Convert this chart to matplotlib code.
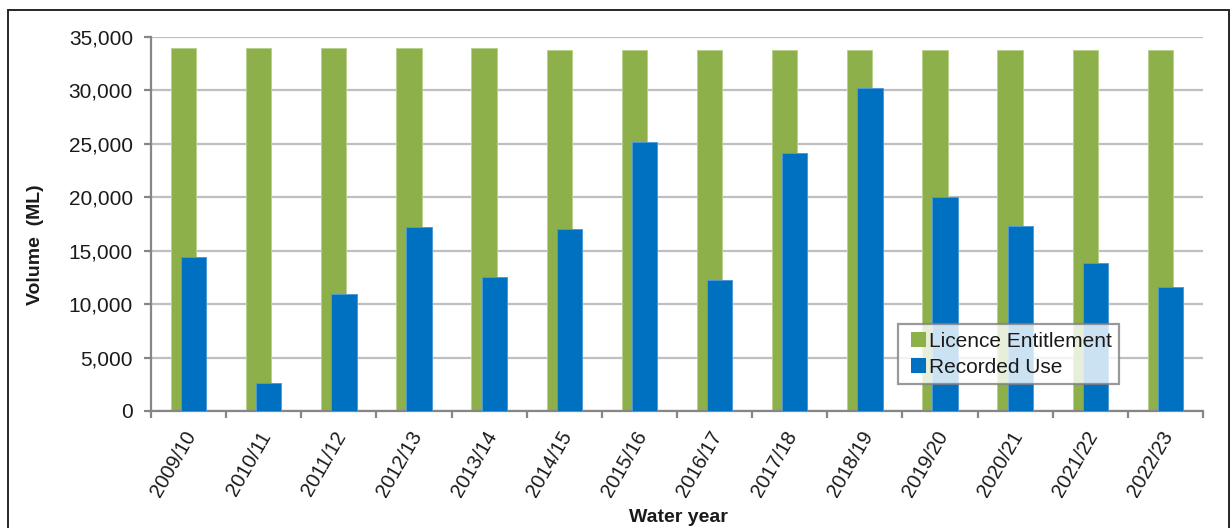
import matplotlib
matplotlib.use('Agg')
import matplotlib.pyplot as plt
import matplotlib.transforms as mtransforms
from matplotlib.patches import Rectangle
from matplotlib.legend_handler import HandlerPatch
from matplotlib.ticker import FuncFormatter
import numpy as np

matplotlib.rcParams.update({
    'font.family': ['Liberation Sans', 'DejaVu Sans'],
    'text.color': '#1a1a1a',
    'axes.labelcolor': '#1a1a1a',
    'xtick.color': '#868686',
    'ytick.color': '#868686',
    'xtick.labelcolor': '#1a1a1a',
    'ytick.labelcolor': '#1a1a1a',
})

years = ['2009/10', '2010/11', '2011/12', '2012/13', '2013/14', '2014/15', '2015/16',
         '2016/17', '2017/18', '2018/19', '2019/20', '2020/21', '2021/22', '2022/23']
licence_entitlement = [33950, 33950, 33950, 33950, 33950, 33820, 33820,
                       33820, 33820, 33820, 33820, 33820, 33820, 33820]
recorded_use = [14380, 2650, 10920, 17200, 12570, 17000, 25170,
                12230, 24120, 30200, 20030, 17340, 13880, 11630]

green = '#8DB04A'
blue = '#0070C0'


def square_handle(legend, orig_handle, xdescent, ydescent, width, height, fontsize):
    # small square at the right end of the handle box, like Excel
    sz = 11
    return Rectangle((width - xdescent - sz, -ydescent + (height - sz) / 2), sz, sz)


fig = plt.figure(figsize=(12.32, 5.28), dpi=100)
ax = fig.add_axes([151 / 1232, 117 / 528, 1052 / 1232, 374 / 528])

x = np.arange(len(years))
w = 0.337
off = 0.067
ax.bar(x - off, licence_entitlement, w, color=green, edgecolor='#b9d08f',
       linewidth=0.7, zorder=2)
ax.bar(x + off, recorded_use, w, color=blue, edgecolor='#4f9ad6',
       linewidth=0.7, zorder=3)

ax.set_xlim(-0.5, len(years) - 0.5)
ax.set_ylim(0, 35000)
ax.set_yticks(np.arange(0, 35001, 5000))
ax.yaxis.set_major_formatter(FuncFormatter(lambda v, p: f'{int(v):,}'))
ax.grid(axis='y', color='#BFBFBF', linewidth=1.6, zorder=0)
ax.set_axisbelow(True)

for s in ['top', 'right']:
    ax.spines[s].set_visible(False)
for s in ['left', 'bottom']:
    ax.spines[s].set_color('#868686')
    ax.spines[s].set_linewidth(1.6)

ax.tick_params(axis='y', length=5, width=1.6, pad=8, labelsize=15)

# category labels at centres, tick marks at boundaries
ax.set_xticks(x)
ax.set_xticklabels(years, rotation=60, ha='right', va='top',
                   rotation_mode='anchor', fontsize=14.5)
ax.tick_params(axis='x', which='major', length=0, pad=12)
ax.set_xticks(np.arange(-0.5, len(years), 1.0), minor=True)
ax.tick_params(axis='x', which='minor', length=5, width=1.6)
shift = mtransforms.ScaledTranslation(-5 / 100, 0, fig.dpi_scale_trans)
for lab in ax.get_xticklabels():
    lab.set_transform(lab.get_transform() + shift)

ax.set_ylabel('Volume  (ML)', fontsize=14, fontweight='bold')
ax.yaxis.set_label_coords(-0.102, 0.444)
fig.text(678 / 1232, 1 - 517 / 528, 'Water year', ha='center', va='center',
         fontsize=14, fontweight='bold')

handles = [Rectangle((0, 0), 1, 1, facecolor=green, edgecolor='none'),
           Rectangle((0, 0), 1, 1, facecolor=blue, edgecolor='none')]
leg = ax.legend(handles, ['Licence Entitlement', 'Recorded Use'],
                loc='upper left', bbox_to_anchor=(0.71, 0.232), fontsize=15,
                frameon=True, fancybox=False, framealpha=0.8, edgecolor='#808080',
                handlelength=1.0, handleheight=0.7, handletextpad=0.15,
                borderpad=0.35, labelspacing=0.35, borderaxespad=0,
                handler_map={Rectangle: HandlerPatch(patch_func=square_handle)})
leg.get_frame().set_linewidth(1.6)

fig.patches.append(Rectangle((8 / 1232, -0.05), 1221 / 1232, 1.05 - 10 / 528,
                             transform=fig.transFigure, fill=False,
                             edgecolor='#262626', linewidth=1.4))

fig.savefig('out.png', dpi=100)
